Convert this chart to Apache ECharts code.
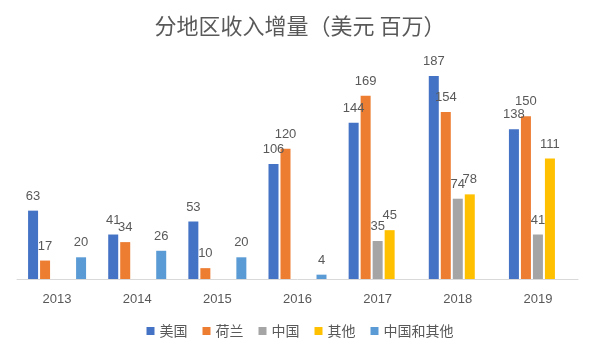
<!DOCTYPE html>
<html><head><meta charset="utf-8">
<script src="https://cdn.jsdelivr.net/npm/echarts@6/dist/echarts.min.js"></script>
<style>html,body{margin:0;padding:0;background:#fff}#c{width:600px;height:358px}</style>
</head><body><div id="c"></div>
<script>
var categories = ['2013','2014','2015','2016','2017','2018','2019'];
var usa = [63, 41, 53, 106, 144, 187, 138];
var netherlands = [17, 34, 10, 120, 169, 154, 150];
var china = [null, null, null, null, 35, 74, 41];
var others = [null, null, null, null, 45, 78, 111];
var chinaAndOthers = [20, 26, 20, 4, null, null, null];
var seriesNames = ['美国','荷兰','中国','其他','中国和其他'];
var colors = ['#4472C4','#ED7D31','#A5A5A5','#FFC000','#5B9BD5'];
var dataSets = [usa, netherlands, china, others, chinaAndOthers];

var chart = echarts.init(document.getElementById('c'));
chart.setOption({
  animation: false,
  title: {
    text: '分地区收入增量（美元 百万）',
    left: 'center', top: 10,
    textStyle: {color: '#595959', fontSize: 22, fontWeight: 'normal', fontFamily: 'Noto Sans CJK SC'}
  },
  legend: {
    data: seriesNames, bottom: 15, left: 'center',
    icon: 'rect', itemWidth: 8, itemHeight: 8, itemGap: 15,
    textStyle: {color: '#595959', fontSize: 14, fontFamily: 'Noto Sans CJK SC'}
  },
  grid: {left: 17, right: 22, top: 62, bottom: 79},
  xAxis: {
    type: 'category', data: categories,
    axisLine: {lineStyle: {color: '#D9D9D9'}},
    axisTick: {show: false},
    axisLabel: {color: '#595959', fontSize: 13, margin: 14}
  },
  yAxis: {type: 'value', min: 0, max: 200, show: false, splitLine: {show: false}},
  series: dataSets.map(function (d, i) {
    return {
      name: seriesNames[i], type: 'bar', data: d,
      barWidth: 10, barGap: '20%',
      itemStyle: {color: colors[i]},
      label: {show: true, position: 'top', distance: 8, color: '#595959', fontSize: 13}
    };
  })
});
</script></body></html>
